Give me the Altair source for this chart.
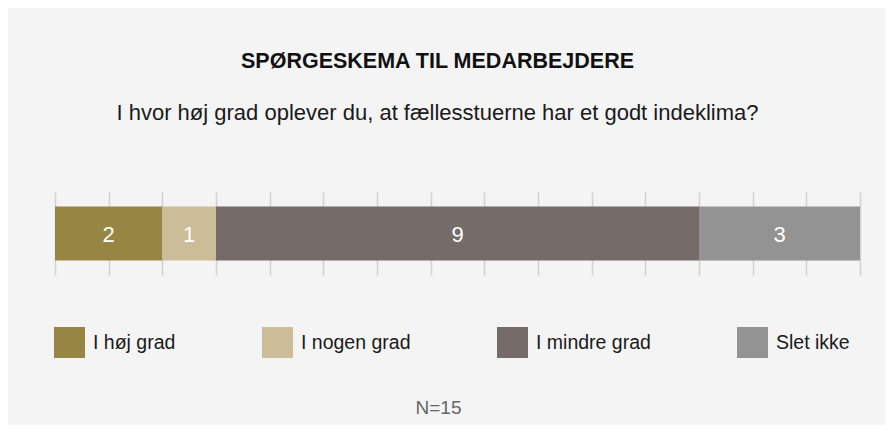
import altair as alt
import pandas as pd

categories = ["I høj grad", "I nogen grad", "I mindre grad", "Slet ikke"]
counts = [2, 1, 9, 3]
colors = ["#968543", "#cbbd97", "#756c69", "#939393"]
tick_values = list(range(0, 16))
title_text = "SPØRGESKEMA TIL MEDARBEJDERE"
subtitle_text = "I hvor høj grad oplever du, at fællesstuerne har et godt indeklima?"
n_text = "N=15"

df = pd.DataFrame({"kategori": categories, "antal": counts, "orden": list(range(len(categories)))})

base = alt.Chart(df).transform_stack(
    stack="antal", groupby=[], as_=["x0", "x1"], sort=[alt.SortField("orden")]
).transform_calculate(
    mid="(datum.x0 + datum.x1) / 2", row="'a'"
)

xscale = alt.Scale(domain=[0, 15], nice=False, zero=True, padding=0)
xaxis = alt.Axis(
    values=tick_values, grid=True, gridColor="#d2d2d2", gridWidth=1.5, gridOpacity=1,
    ticks=False, labels=False, domain=False,
    title=n_text, titleX=383, titleY=138, titleBaseline="alphabetic", titleAlign="center",
    titleFontSize=19, titleFontWeight="normal", titleColor="#666666",
    titleFont="Liberation Sans",
)
yenc = alt.Y("row:N", axis=None, scale=alt.Scale(paddingInner=0, paddingOuter=0.2685))

bars = base.mark_bar(stroke=None).encode(
    x=alt.X("x0:Q", scale=xscale, axis=xaxis),
    x2="x1:Q",
    y=yenc,
    color=alt.Color(
        "kategori:N",
        scale=alt.Scale(domain=categories, range=colors),
        legend=alt.Legend(
            orient="none", legendX=-1, legendY=135, direction="horizontal", columns=4,
            columnPadding=86, symbolType="square", symbolSize=961, symbolStrokeWidth=0,
            symbolOpacity=1, labelFontSize=19.5, labelOffset=8, labelColor="#1a1a1a",
            labelFont="Liberation Sans", title=None, padding=0, labelLimit=300,
        ),
        sort=categories,
    ),
)

texts = base.mark_text(
    color="white", fontSize=22, font="Liberation Sans", baseline="middle", align="center", dy=1
).encode(
    x=alt.X("mid:Q", scale=xscale, axis=xaxis),
    y=yenc,
    text="antal:Q",
)

chart = alt.layer(bars, texts).properties(
    width=805,
    height=83,
    autosize="none",
    padding={"left": 47, "top": 184, "right": 25, "bottom": 150},
    background="#f4f4f4",
    title=alt.TitleParams(
        text=title_text,
        subtitle=subtitle_text,
        fontSize=21.5,
        font="Liberation Sans",
        fontWeight="bold",
        color="#111111",
        subtitleFontSize=22,
        subtitleFont="Liberation Sans",
        subtitleColor="#1a1a1a",
        anchor="middle",
        dx=-20,
        offset=68,
        subtitlePadding=31,
    ),
).configure_view(stroke=None)

chart.save("out.html", embed_options={"renderer": "svg", "actions": False})
